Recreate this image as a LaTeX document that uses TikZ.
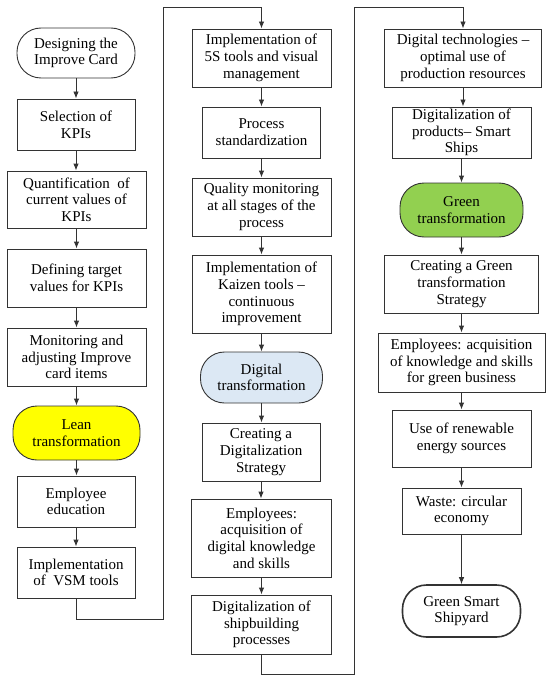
\documentclass[tikz,border=0pt]{standalone}
\usepackage{fontspec}
\setmainfont{Liberation Serif}
\usetikzlibrary{arrows.meta}
\definecolor{lineC}{HTML}{333333}
\definecolor{leanY}{HTML}{FFFF00}
\definecolor{digB}{HTML}{DCE8F4}
\definecolor{greenG}{HTML}{92D050}
\tikzset{
  box/.style={draw=lineC, line width=0.9pt, align=center, inner sep=0pt, fill=white,
    font=\fontsize{15pt}{16.7pt}\selectfont},
  term/.style={box, rounded corners=24pt},
  arr/.style={draw=lineC, line width=0.9pt, -{Latex[length=7pt,width=5.5pt]}}
}
\begin{document}
\begin{tikzpicture}[x=1pt,y=-1pt]
\useasboundingbox (0,0) rectangle (550,682);
% column 1
\node[term, minimum width=118pt, minimum height=50pt] (d1) at (76,53) {Designing the\\Improve Card};
\node[box, minimum width=118pt, minimum height=51pt] (d2) at (76,124.5) {Selection of\\KPIs};
\node[box, minimum width=139pt, minimum height=57pt] (d3) at (76.5,199.5) {Quantification\ \ of\\current values of\\KPIs};
\node[box, minimum width=139pt, minimum height=58pt] (d4) at (76.5,278) {Defining target\\values for KPIs};
\node[box, minimum width=139pt, minimum height=58pt] (d5) at (76.5,357) {Monitoring and\\adjusting Improve\\card items};
\node[term, fill=leanY, minimum width=127pt, minimum height=54pt] (d6) at (76.5,433) {Lean\\transformation};
\node[box, minimum width=118pt, minimum height=51pt] (d7) at (76,501.5) {Employee\\education};
\node[box, minimum width=118pt, minimum height=51pt] (d8) at (76,572.5) {Implementation\\of\ \ VSM tools};
% column 2
\node[box, minimum width=139pt, minimum height=58pt] (e1) at (261.5,58) {Implementation of\\5S tools and visual\\management};
\node[box, minimum width=118pt, minimum height=51pt] (e2) at (261.5,132.5) {Process\\standardization};
\node[box, minimum width=139pt, minimum height=58pt] (e3) at (261.5,207) {Quality monitoring\\at all stages of the\\process};
\node[box, minimum width=139pt, minimum height=78pt] (e4) at (261.5,294) {Implementation of\\Kaizen tools –\\continuous\\improvement};
\node[term, fill=digB, minimum width=122pt, minimum height=51pt] (e5) at (261.5,377.5) {Digital\\transformation};
\node[box, minimum width=118pt, minimum height=58pt] (e6) at (261,452) {Creating a\\Digitalization\\Strategy};
\node[box, minimum width=140pt, minimum height=78pt] (e7) at (261.5,538) {Employees:\\acquisition of\\digital knowledge\\and skills};
\node[box, minimum width=140pt, minimum height=59pt] (e8) at (261.5,624.5) {Digitalization of\\shipbuilding\\processes};
% column 3
\node[box, minimum width=157pt, minimum height=58pt] (f1) at (463,58) {Digital technologies –\\optimal use of\\production resources};
\node[box, minimum width=139pt, minimum height=51pt] (f2) at (461.5,132.5) {Digitalization of\\products– Smart\\Ships};
\node[term, fill=greenG, minimum width=123pt, minimum height=54pt] (f3) at (461.5,210) {Green\\transformation};
\node[box, minimum width=154pt, minimum height=58pt] (f4) at (461.5,284) {Creating a Green\\transformation\\Strategy};
\node[box, minimum width=167pt, minimum height=59pt] (f5) at (461.5,362.5) {Employees: acquisition\\of knowledge and skills\\for green business};
\node[box, minimum width=139pt, minimum height=57pt] (f6) at (461.5,438.5) {Use of renewable\\energy sources};
\node[box, minimum width=119pt, minimum height=46pt] (f7) at (461.5,511) {Waste: circular\\economy};
\node[term, line width=1.6pt, minimum width=118pt, minimum height=52pt] (f8) at (461.5,611) {Green Smart\\Shipyard};
% arrows
\foreach \a/\b in {d1/d2,d2/d3,d3/d4,d4/d5,d5/d6,d6/d7,d7/d8,
                   e1/e2,e2/e3,e3/e4,e4/e5,e5/e6,e6/e7,e7/e8,
                   f1/f2,f2/f3,f3/f4,f4/f5,f5/f6,f6/f7,f7/f8}
  \draw[arr] (\a.south) -- (\a.south |- \b.north);
% loop connectors
\coordinate (c1) at (163,7);
\coordinate (c2) at (354,7);
\draw[arr] (d8.south) -- ++(0,21) -| (c1) -| (e1.north);
\draw[arr] (e8.south) -- ++(0,20) -| (c2) -| (f1.north);
\end{tikzpicture}
\end{document}
